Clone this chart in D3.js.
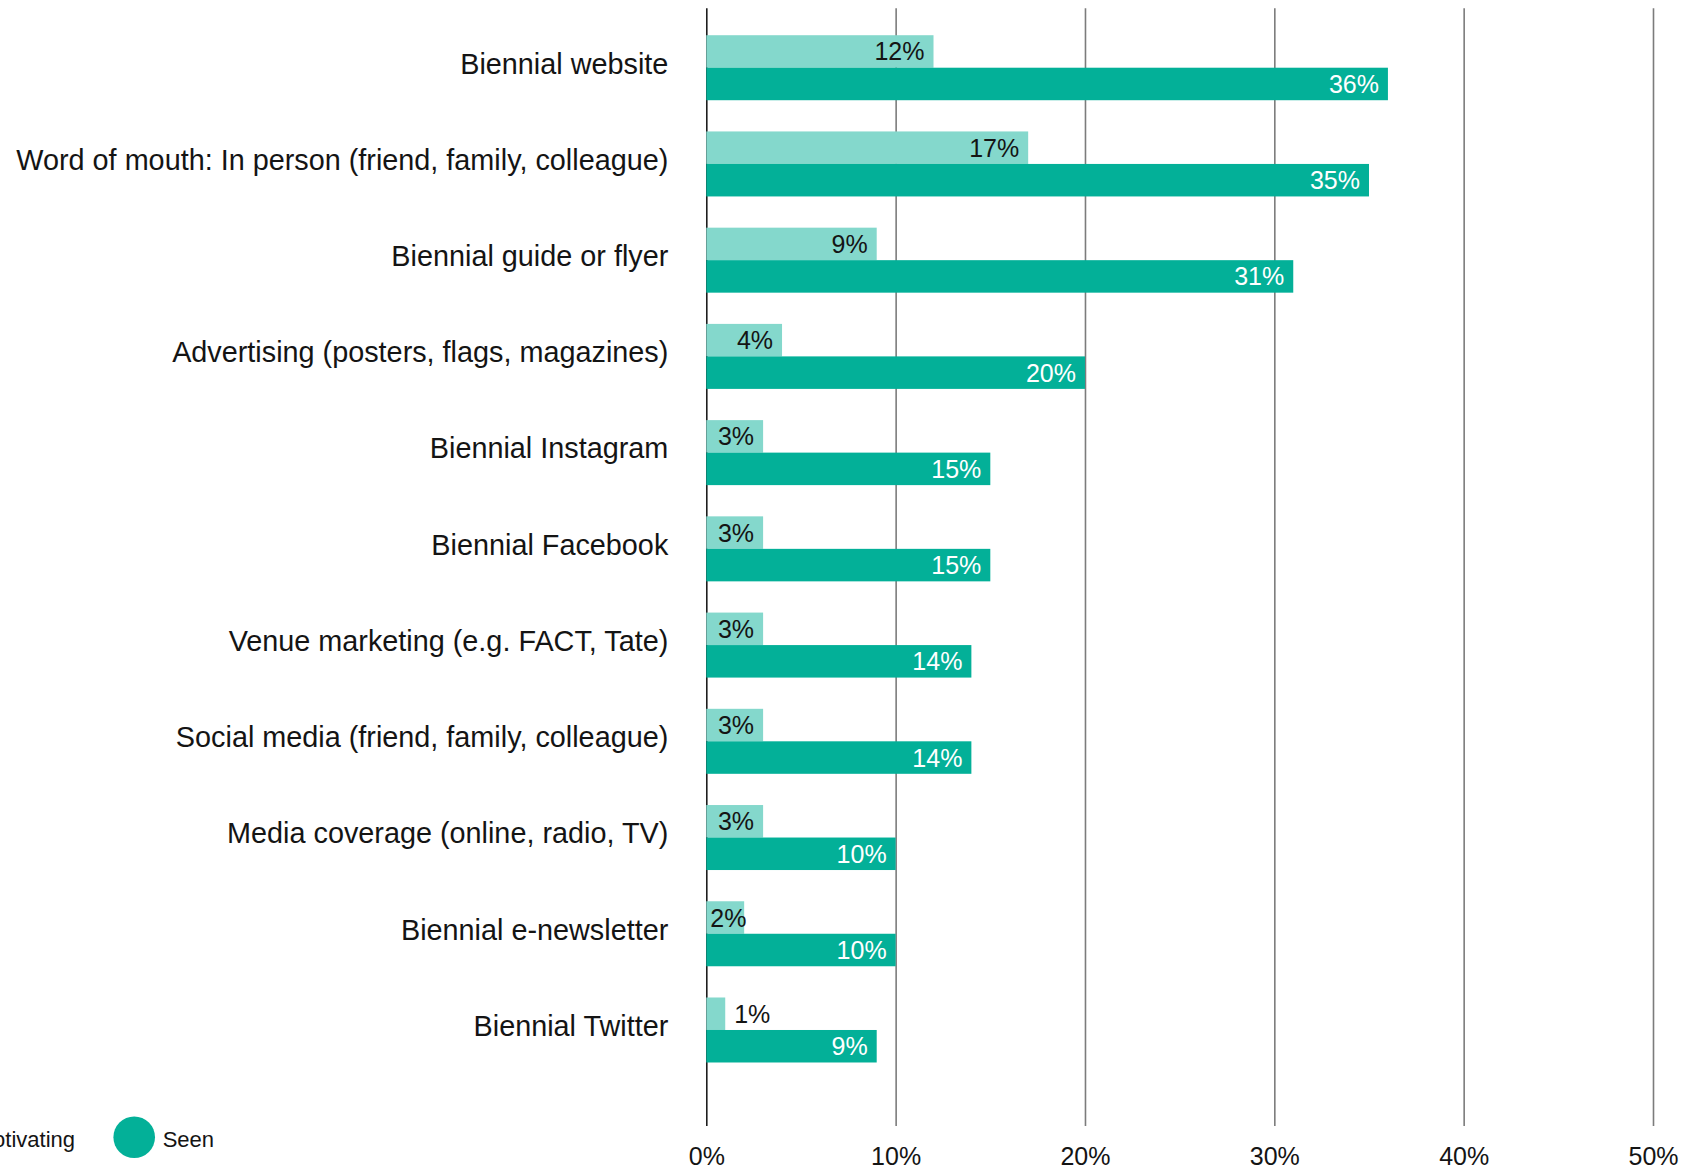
<!DOCTYPE html>
<html>
<head>
<meta charset="utf-8">
<script src="https://cdn.jsdelivr.net/npm/d3@7"></script>
<style>
  html, body { margin: 0; padding: 0; background: #fff; }
  svg { display: block; font-family: "Liberation Sans", Arial, sans-serif; }
</style>
</head>
<body>
<svg id="chart" width="1690" height="1171"></svg>
<script>
// Information sources: share who saw each source vs. share motivated by it
const categories = [
  "Biennial website",
  "Word of mouth: In person (friend, family, colleague)",
  "Biennial guide or flyer",
  "Advertising (posters, flags, magazines)",
  "Biennial Instagram",
  "Biennial Facebook",
  "Venue marketing (e.g. FACT, Tate)",
  "Social media (friend, family, colleague)",
  "Media coverage (online, radio, TV)",
  "Biennial e-newsletter",
  "Biennial Twitter"
];
const motivating = [12, 17, 9, 4, 3, 3, 3, 3, 3, 2, 1];
const seen = [36, 35, 31, 20, 15, 15, 14, 14, 10, 10, 9];
const tickValues = [0, 10, 20, 30, 40, 50];
const seriesNames = ["Motivating", "Seen"];

const colLight = "#84d8cc";
const colDark = "#03b098";
const ink = "#141414";

const svg = d3.select("#chart");

const x = d3.scaleLinear().domain([0, 50]).range([706.3, 1653]);
const y = d3.scaleBand().domain(categories).range([19.6, 1078.1]);
const barH = 32.5;
const gridTop = 8.3, gridBottom = 1126;

// vertical gridlines and percentage ticks
const axis = d3.axisBottom(x)
  .tickValues(tickValues)
  .tickFormat(d => d + "%")
  .tickSize(-(gridBottom - gridTop));
const axisG = svg.append("g")
  .attr("transform", `translate(0,${gridBottom})`)
  .call(axis);
axisG.select(".domain").remove();
axisG.selectAll(".tick line")
  .attr("stroke", d => d === 0 ? "#1e1e1e" : "#7c7c7c")
  .attr("stroke-width", 1.6);
axisG.selectAll(".tick text")
  .attr("y", 39)
  .attr("dy", null)
  .attr("fill", ink)
  .style("font-size", "25px")
  .style("font-family", "'Liberation Sans', Arial, sans-serif");

const rows = categories.map((c, i) => ({ c, m: motivating[i], s: seen[i] }));
const mid = d => y(d.c) + y.bandwidth() / 2;

const row = svg.append("g").selectAll("g").data(rows).join("g");

// category labels
row.append("text")
  .attr("x", 668.3)
  .attr("y", d => mid(d) + 5.8)
  .attr("text-anchor", "end")
  .attr("fill", ink)
  .style("font-size", "28.8px")
  .text(d => d.c);

// motivating (light) bars
row.append("rect")
  .attr("x", x(0))
  .attr("y", d => mid(d) - barH)
  .attr("width", d => x(d.m) - x(0))
  .attr("height", barH)
  .attr("fill", colLight);

// seen (dark) bars
row.append("rect")
  .attr("x", x(0))
  .attr("y", d => mid(d))
  .attr("width", d => x(d.s) - x(0))
  .attr("height", barH)
  .attr("fill", colDark);

// value labels: inside the bar end when they fit, otherwise just past it
function placeLabel(sel, key, dy, color) {
  sel.append("text")
    .attr("y", d => mid(d) + dy)
    .attr("fill", color)
    .style("font-size", "25px")
    .text(d => d[key] + "%")
    .each(function (d) {
      const t = d3.select(this);
      const tw = this.getComputedTextLength();
      const end = x(d[key]);
      const w = end - x(0);
      if (w > tw) {
        t.attr("text-anchor", "end").attr("x", Math.max(end - 9, x(0) + 4 + tw));
      } else {
        t.attr("text-anchor", "start").attr("x", end + 9).attr("fill", ink);
      }
    });
}
placeLabel(row, "m", -barH / 2 + 9, ink);
placeLabel(row, "s", barH / 2 + 9, "#ffffff");

// legend
const legend = svg.append("g");
const legendItems = [
  { name: seriesNames[0], color: colLight, textEnd: 75 },
  { name: seriesNames[1], color: colDark, textStart: 162.7 }
];
const r = 20.8, gap = 7.7, ly = 1137.2;
legendItems.forEach(it => {
  const t = legend.append("text")
    .attr("y", ly + 9.5)
    .attr("fill", ink)
    .style("font-size", "22px")
    .text(it.name);
  if (it.textStart !== undefined) {
    t.attr("x", it.textStart);
  } else {
    t.attr("x", it.textEnd).attr("text-anchor", "end");
  }
  const bb = t.node().getBBox();
  legend.append("circle")
    .attr("cx", bb.x - gap - r)
    .attr("cy", ly)
    .attr("r", r)
    .attr("fill", it.color);
});
</script>
</body>
</html>
